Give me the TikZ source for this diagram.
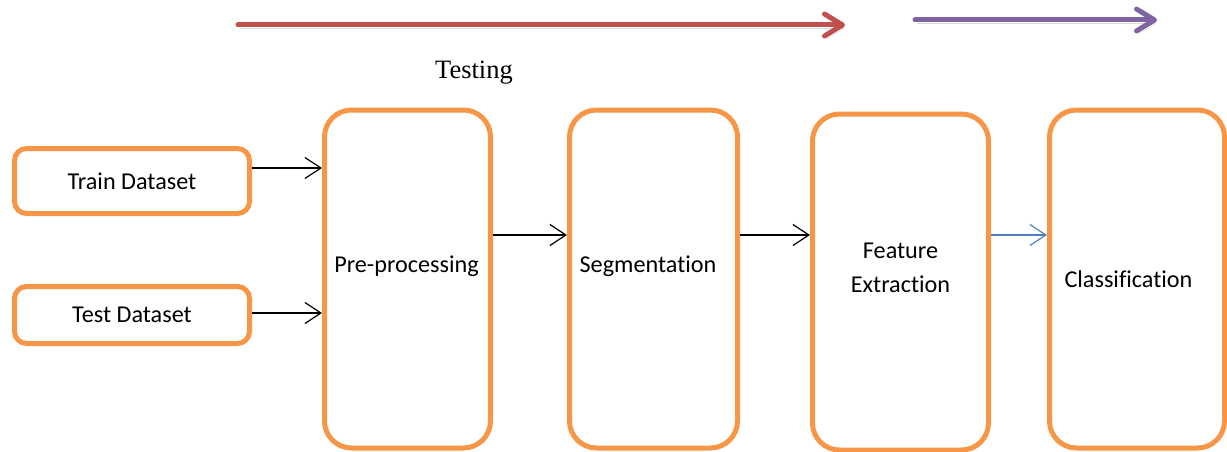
\documentclass[tikz,border=0pt]{standalone}
\usepackage{fontspec}
\setmainfont{Liberation Serif}
\newfontfamily\calibri{Carlito}[Ligatures=NoCommon]
\usetikzlibrary{arrows.meta, positioning}

\definecolor{boxorange}{HTML}{F79646}
\definecolor{testred}{HTML}{C0504D}
\definecolor{trainpurple}{HTML}{8064A2}
\definecolor{linkblue}{HTML}{4F81BD}

\begin{document}
\begin{tikzpicture}[x=1pt, y=-1pt,
    stage/.style={draw=boxorange, line width=5pt, rounded corners=27pt, inner sep=0pt},
    inbox/.style={draw=boxorange, line width=5pt, rounded corners=12pt, minimum width=235pt,
                  inner sep=0pt, font=\calibri\fontsize{24.2}{34}\selectfont},
    lbl/.style={font=\calibri\fontsize{24.2}{34}\selectfont, align=center, inner sep=0pt},
    flow/.style={-{Straight Barb[length=16pt, width=21pt]}, line width=1.2pt},
    phase/.style={line width=5pt, line cap=round, -{Straight Barb[length=18pt, width=22pt, round]},
                  preaction={draw=black!15, transform canvas={shift={(1.5pt,-3.5pt)}}}},
]
\useasboundingbox (0,0) rectangle (1227,452);

% --- Phase arrows on top ---
\coordinate (tests) at (238,25);
\coordinate (teste) at (845,25);
\coordinate (trains) at (915,20);
\coordinate (traine) at (1157,20);
\draw[phase, testred] (tests) -- (teste);
\draw[phase, trainpurple] (trains) -- (traine);
\node[font=\fontsize{26.5}{30}\selectfont, inner sep=0pt] (testing) at (474,73) {Testing};

% --- Inputs ---
\node[inbox, minimum height=65pt] (train) at (132,181) {Train Dataset};
\node[inbox, minimum height=57pt] (test)  at (132,315) {Test Dataset};

% --- Stages ---
\node[stage, minimum width=166pt, minimum height=338pt] (pre)  at (407.5,279) {};
\node[stage, minimum width=168pt, minimum height=338pt] (seg)  at (653.5,279) {};
\node[stage, minimum width=176pt, minimum height=336pt] (feat) at (900.5,282) {};
\node[stage, minimum width=175pt, minimum height=338pt] (cls)  at (1137,279) {};

\node[lbl, anchor=base] (pretxt)  at (406.5,272.5) {Pre-processing};
\node[lbl, anchor=base] (segtxt)  at (648,272.5)   {Segmentation};
\node[lbl]              (feattxt) at (900.5,268)   {Feature\\Extraction};
\node[lbl, anchor=base] (clstxt)  at (1128.5,287.5) {Classification};

% ===================== EDGES =====================
\draw[flow] ([yshift=13pt]train.east) -- ([yshift=13pt]train.east -| pre.west);
\draw[flow] ([yshift=2pt]test.east) -- ([yshift=2pt]test.east -| pre.west);
\draw[flow] ([yshift=44pt]pre.east) -- ([yshift=44pt]pre.east -| seg.west);
\draw[flow] ([yshift=44pt]seg.east) -- ([yshift=44pt]seg.east -| feat.west);
\draw[flow, linkblue] ([yshift=47pt]feat.east) -- ([yshift=47pt]feat.east -| cls.west);

\end{tikzpicture}
\end{document}
